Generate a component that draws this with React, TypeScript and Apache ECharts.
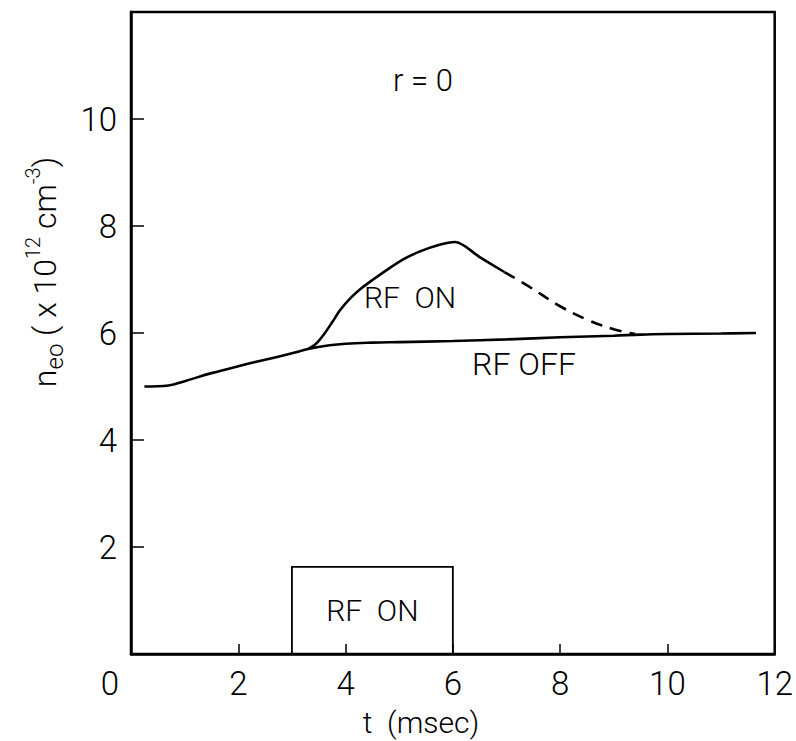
import React, { useEffect, useRef } from "react";
import * as echarts from "echarts";

const rfOffT = [0.25, 0.7, 1.0, 1.5, 2.0, 2.5, 3.0, 3.3, 3.7, 4.0, 4.5, 5.0, 6.0, 7.0, 8.0, 9.0, 9.5, 10.0, 11.0, 11.65];
const rfOffN = [5.0, 5.02, 5.1, 5.25, 5.38, 5.5, 5.62, 5.7, 5.77, 5.8, 5.82, 5.83, 5.85, 5.88, 5.92, 5.95, 5.97, 5.98, 5.99, 6.0];

const rfOnT = [3.3, 3.45, 3.6, 3.75, 3.9, 4.1, 4.3, 4.5, 4.8, 5.1, 5.4, 5.72, 6.04, 6.5, 6.96];
const rfOnN = [5.7, 5.8, 5.98, 6.2, 6.43, 6.66, 6.84, 6.99, 7.2, 7.39, 7.53, 7.64, 7.7, 7.42, 7.14];

const rfDashT = [6.96, 7.4, 8.0, 8.5, 9.0, 9.4];
const rfDashN = [7.14, 6.88, 6.5, 6.25, 6.07, 5.98];

const rfWindow = [3, 6];
const rfBoxTop = 1.63;

const xTicks = { min: 0, max: 12, interval: 2 };
const yTicks = { min: 0, max: 12, interval: 2 };

const FONT = "Roboto, 'Liberation Sans', sans-serif";
const W = 300;

const pairs = (xs: number[], ys: number[]) => xs.map((x, i) => [x, ys[i]]);

export default function App() {
  const ref = useRef<HTMLDivElement>(null);
  useEffect(() => {
    if (!ref.current) return;
    const chart = echarts.init(ref.current, undefined, { renderer: "svg" });
    const lineStyle = { color: "#000", width: 2.6 };
    const txt = (x: number, y: number, text: string, size = 30) => ({
      type: "text",
      x,
      y,
      style: { text, font: `${W} ${size}px ${FONT}`, fill: "#000", align: "center", verticalAlign: "middle" },
    });
    chart.setOption({
      animation: false,
      backgroundColor: "#fff",
      grid: {
        left: 131,
        right: 17,
        top: 12,
        bottom: 87,
        show: true,
        borderColor: "#000",
        borderWidth: 2.5,
        containLabel: false,
      },
      xAxis: {
        type: "value",
        ...xTicks,
        axisLine: { show: true, lineStyle: { color: "#000", width: 2.5 } },
        axisTick: { show: true, inside: true, length: 10, lineStyle: { color: "#000", width: 1.5 } },
        axisLabel: {
          formatter: (v: number) => (v === 0 ? "" : String(v)),
          fontSize: 33,
          fontWeight: W,
          fontFamily: FONT,
          color: "#000",
          margin: 13,
        },
        splitLine: { show: false },
      },
      yAxis: {
        type: "value",
        ...yTicks,
        axisLine: { show: true, lineStyle: { color: "#000", width: 2.5 } },
        axisTick: { show: true, inside: true, length: 13, lineStyle: { color: "#000", width: 1.5 } },
        axisLabel: {
          formatter: (v: number) => (v === 0 || v === 12 ? "" : String(v)),
          fontSize: 33,
          fontWeight: W,
          fontFamily: FONT,
          color: "#000",
          margin: 14,
        },
        splitLine: { show: false },
      },
      series: [
        {
          type: "line",
          name: "RF OFF",
          data: pairs(rfOffT, rfOffN),
          smooth: 0.4,
          showSymbol: false,
          lineStyle,
          markArea: {
            silent: true,
            itemStyle: { color: "rgba(0,0,0,0)", borderColor: "#000", borderWidth: 1.8 },
            label: {
              show: true,
              position: "inside",
              formatter: "RF  ON",
              fontSize: 30,
              fontWeight: W,
              fontFamily: FONT,
              color: "#000",
            },
            data: [[{ xAxis: rfWindow[0], yAxis: 0 }, { xAxis: rfWindow[1], yAxis: rfBoxTop }]],
          },
        },
        {
          type: "line",
          name: "RF ON",
          data: pairs(rfOnT, rfOnN),
          smooth: 0.3,
          showSymbol: false,
          lineStyle,
        },
        {
          type: "line",
          name: "RF ON (dashed)",
          data: pairs(rfDashT, rfDashN),
          smooth: 0.4,
          showSymbol: false,
          lineStyle: { ...lineStyle, type: [12, 8] },
        },
      ],
      graphic: [
        txt(110, 683, "0", 33),
        txt(421, 722, "t  (msec)", 30),
        txt(423, 80, "r = 0", 31),
        txt(410, 297, "RF  ON", 30),
        txt(524, 364, "RF OFF", 32),
        {
          type: "text",
          x: 45,
          y: 272,
          rotation: Math.PI / 2,
          style: {
            text: "{b|n}{sub|eo}{b| ( x 10}{sup|12}{b| cm}{sup|-3}{b|)}",
            align: "center",
            verticalAlign: "middle",
            fill: "#000",
            rich: {
              b: { fontSize: 32, fontWeight: W, fontFamily: FONT, lineHeight: 44, verticalAlign: "middle", fill: "#000" },
              sub: { fontSize: 24, fontWeight: W, fontFamily: FONT, lineHeight: 44, verticalAlign: "bottom", fill: "#000" },
              sup: { fontSize: 20, fontWeight: W, fontFamily: FONT, lineHeight: 44, verticalAlign: "top", fill: "#000" },
            },
          },
        },
      ],
    });
    return () => chart.dispose();
  }, []);
  return <div ref={ref} style={{ position: "fixed", left: 0, top: 0, width: 796, height: 741 }} />;
}
